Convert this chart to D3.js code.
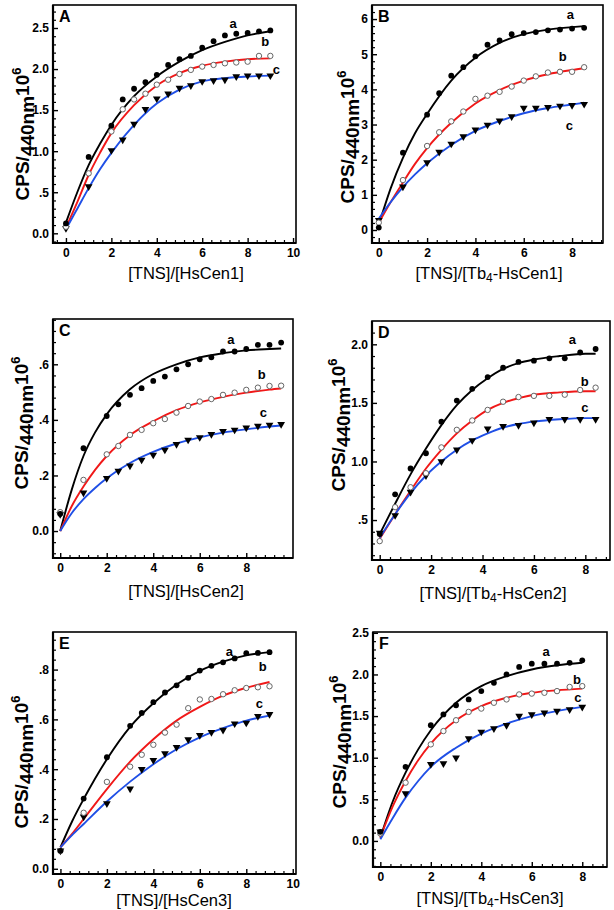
<!DOCTYPE html>
<html><head><meta charset="utf-8">
<script src="https://cdn.jsdelivr.net/npm/d3@7"></script>
<style>body{margin:0;background:#fff}svg{display:block}</style>
</head><body><svg id="c" width="614" height="910"></svg>
<script>
// ---------- Data ----------
const letters = ["A","B","C","D","E","F"];
const xTitles = ["HsCen1","Tb4-HsCen1","HsCen2","Tb4-HsCen2","HsCen3","Tb4-HsCen3"];
const seriesNames = ["a","b","c"];

// Panel A
const xA = [0,1,2,2.5,3,3.5,4,4.5,5,5.5,6,6.5,7,7.5,8,8.5,9];
const aA = [0.12,0.93,1.31,1.63,1.76,1.84,1.93,2.05,2.12,2.16,2.26,2.34,2.41,2.43,2.44,2.46,2.47];
const bA = [0.08,0.73,1.24,1.51,1.63,1.70,1.81,1.87,1.94,1.99,2.03,2.05,2.07,2.08,2.09,2.16,2.16];
const cA = [0.06,0.57,1.01,1.14,1.33,1.51,1.64,1.70,1.77,1.80,1.85,1.86,1.87,1.91,1.92,1.92,1.92];
const fxA = [0,0.5,1,1.5,2,3,4,5,6,7,8,9];
const faA = [0.13,0.50,0.83,1.09,1.32,1.67,1.91,2.09,2.23,2.33,2.41,2.46];
const fbA = [0.07,0.38,0.71,0.98,1.22,1.56,1.80,1.95,2.04,2.09,2.12,2.13];
const fcA = [0.05,0.30,0.55,0.78,0.98,1.32,1.58,1.75,1.85,1.89,1.91,1.92];
const labA = [[7.36,2.56],[8.78,2.34],[9.27,1.99]];

// Panel B
const xB = [0,1,2,2.5,3,3.5,4,4.5,5,5.5,6,6.5,7,7.5,8,8.5];
const aB = [0.07,2.20,3.28,3.89,4.39,4.63,4.94,5.27,5.39,5.57,5.60,5.63,5.68,5.70,5.73,5.75];
const bB = [0.21,1.42,2.39,2.78,3.09,3.37,3.73,3.82,3.93,4.08,4.25,4.37,4.48,4.50,4.50,4.63];
const cB = [0.28,1.23,1.92,2.22,2.45,2.66,2.85,2.99,3.11,3.23,3.47,3.47,3.49,3.53,3.55,3.58];
const fxB = [0,0.5,1,1.5,2,3,4,5,6,7,8,8.5];
const faB = [0.15,1.2,2.05,2.75,3.3,4.25,4.9,5.32,5.57,5.70,5.77,5.80];
const fbB = [0.2,0.8,1.35,1.88,2.33,3.05,3.6,3.98,4.25,4.43,4.55,4.6];
const fcB = [0.32,0.8,1.22,1.58,1.9,2.42,2.82,3.1,3.32,3.47,3.57,3.62];
const labB = [[7.93,6.13],[7.61,4.94],[7.89,2.96]];

// Panel C
const xC = [0,1,2,2.5,3,3.5,4,4.5,5,5.5,6,6.5,7,7.5,8,8.5,9,9.5];
const aC = [0.062,0.298,0.414,0.456,0.49,0.514,0.54,0.556,0.582,0.60,0.618,0.625,0.646,0.646,0.655,0.67,0.67,0.678];
const bC = [0.068,0.184,0.276,0.306,0.346,0.364,0.388,0.403,0.426,0.45,0.466,0.475,0.49,0.498,0.508,0.516,0.522,0.523];
const cC = [0.06,0.138,0.19,0.216,0.235,0.256,0.274,0.292,0.312,0.328,0.337,0.348,0.359,0.364,0.372,0.378,0.382,0.384];
const fxC = [0,0.5,1,1.5,2,3,4,5,6,7,8,9,9.5];
const faC = [0,0.15,0.27,0.355,0.42,0.51,0.565,0.60,0.625,0.64,0.65,0.655,0.657];
const fbC = [0,0.09,0.16,0.22,0.27,0.345,0.395,0.435,0.463,0.483,0.498,0.509,0.513];
const fcC = [0,0.065,0.115,0.155,0.19,0.245,0.285,0.315,0.337,0.354,0.366,0.376,0.38];
const labC = [[7.34,0.691],[8.67,0.565],[8.74,0.427]];

// Panel D
const xD = [0,0.6,1.2,1.8,2.4,3,3.6,4.2,4.8,5.4,6,6.6,7.2,7.8,8.4];
const aD = [0.38,0.72,0.94,1.07,1.34,1.52,1.62,1.72,1.80,1.85,1.86,1.88,1.88,1.93,1.96];
const bD = [0.32,0.61,0.78,0.90,1.12,1.27,1.35,1.44,1.51,1.55,1.56,1.56,1.57,1.61,1.63];
const cD = [0.39,0.54,0.74,0.88,1.00,1.10,1.18,1.28,1.30,1.31,1.33,1.36,1.36,1.36,1.36];
const fxD = [0,0.6,1.2,1.8,2.4,3,3.6,4.2,4.8,5.4,6,7,8,8.4];
const faD = [0.38,0.64,0.89,1.11,1.31,1.48,1.61,1.71,1.79,1.84,1.87,1.90,1.92,1.92];
const fbD = [0.34,0.55,0.75,0.94,1.10,1.24,1.35,1.44,1.50,1.54,1.57,1.59,1.60,1.60];
const fcD = [0.35,0.55,0.73,0.88,1.00,1.10,1.18,1.24,1.29,1.32,1.34,1.36,1.37,1.37];
const labD = [[7.5,2.04],[7.98,1.68],[7.98,1.46]];

// Panel E
const xE = [0,1,2,3,3.5,4,4.5,5,5.5,6,6.5,7,7.5,8,8.5,9];
const aE = [0.072,0.282,0.448,0.574,0.626,0.669,0.708,0.737,0.767,0.796,0.815,0.829,0.845,0.866,0.867,0.870];
const bE = [0.072,0.225,0.349,0.41,0.458,0.498,0.547,0.579,0.645,0.680,0.682,0.701,0.717,0.726,0.729,0.733];
const cE = [0.072,0.209,0.262,0.321,0.40,0.436,0.463,0.488,0.519,0.536,0.548,0.557,0.583,0.586,0.613,0.621];
const fxE = [0,0.5,1,2,3,4,5,6,7,8,9];
const faE = [0.086,0.19,0.28,0.44,0.57,0.665,0.74,0.795,0.832,0.857,0.87];
const fbE = [0.086,0.14,0.20,0.32,0.43,0.52,0.595,0.65,0.695,0.727,0.75];
const fcE = [0.086,0.135,0.18,0.27,0.35,0.42,0.48,0.528,0.565,0.595,0.615];
const labE = [[7.27,0.871],[8.71,0.811],[8.56,0.664]];

// Panel F
const xF = [0,1,2,2.5,3,3.5,4,4.5,5,5.5,6,6.5,7,7.5,8];
const aF = [0.11,0.89,1.39,1.52,1.63,1.70,1.80,1.90,2.0,2.09,2.13,2.13,2.13,2.14,2.17];
const bF = [0.09,0.70,1.16,1.32,1.45,1.55,1.59,1.66,1.70,1.76,1.77,1.78,1.80,1.85,1.86];
const cF = [0.11,0.57,0.92,0.93,1.0,1.23,1.31,1.35,1.39,1.50,1.52,1.54,1.56,1.58,1.61];
const fxF = [0,0.5,1,1.5,2,3,4,5,6,7,8];
const faF = [0.04,0.48,0.82,1.10,1.33,1.66,1.86,1.98,2.06,2.11,2.14];
const fbF = [0.04,0.42,0.72,0.97,1.17,1.45,1.62,1.72,1.78,1.81,1.83];
const fcF = [0.02,0.28,0.52,0.72,0.89,1.12,1.29,1.41,1.50,1.56,1.61];
const labF = [[6.57,2.28],[7.79,1.94],[7.83,1.72]];

// Ticks
const xTicks10 = [0,2,4,6,8,10];
const xTicks8 = [0,2,4,6,8];
const yTicksA = [0,0.5,1,1.5,2,2.5];
const yTicksB = [0,1,2,3,4,5,6];
const yTicksC = [0,0.2,0.4,0.6];
const yTicksD = [0.5,1,1.5,2];
const yTicksE = [0,0.2,0.4,0.6,0.8];
const yTicksF = [0,0.5,1,1.5,2,2.5];

// ---------- Layout ----------
const FONT = "'Liberation Sans', Arial, Helvetica, sans-serif";
const lineColors = ["#000000","#f01818","#1f4fe6"];
const layout = [
  {l:53, t:5,   r:296, b:243, xd:[-0.57,10.13], yd:[-0.118,2.78], ytx:29,  yty:134, xtx:186, xty:279, xt:xTicks10, yt:yTicksA, ym:0.1,  dec:true},
  {l:372,t:5,   r:603, b:243, xd:[-0.28,9.28],  yd:[-0.37,6.40],  ytx:354, yty:137, xtx:489, xty:279, xt:xTicks8,  yt:yTicksB, ym:0.2,  dec:false},
  {l:53, t:319, r:293, b:558, xd:[-0.31,10.01], yd:[-0.097,0.763],ytx:28,  yty:423, xtx:186, xty:597, xt:xTicks10, yt:yTicksC, ym:0.04, dec:true},
  {l:372,t:321, r:610, b:560, xd:[-0.30,8.96],  yd:[0.159,2.199], ytx:345, yty:425, xtx:493, xty:599, xt:xTicks8,  yt:yTicksD, ym:0.1,  dec:true},
  {l:53, t:632, r:296, b:874, xd:[-0.32,10.14], yd:[-0.021,0.951],ytx:28,  yty:762, xtx:174, xty:906, xt:xTicks10, yt:yTicksE, ym:0.04, dec:true},
  {l:373,t:632, r:607, b:867, xd:[-0.29,8.98],  yd:[-0.313,2.51], ytx:346, yty:742, xtx:490, xty:904, xt:xTicks8,  yt:yTicksF, ym:0.1,  dec:true}
];
const pts = [[xA,aA,bA,cA],[xB,aB,bB,cB],[xC,aC,bC,cC],[xD,aD,bD,cD],[xE,aE,bE,cE],[xF,aF,bF,cF]];
const fits = [[fxA,faA,fbA,fcA],[fxB,faB,fbB,fcB],[fxC,faC,fbC,fcC],[fxD,faD,fbD,fcD],[fxE,faE,fbE,fcE],[fxF,faF,fbF,fcF]];
const labs = [labA,labB,labC,labD,labE,labF];

const fmtDec = v => v === 0 ? "0.0" : (Math.abs(v) < 1 ? d3.format(".1f")(v).replace(/^0/, "") : d3.format(".1f")(v));
const svg = d3.select("#c");

function drawPanel(i) {
  const p = layout[i];
  const g = svg.append("g").attr("font-family", FONT);
  const x = d3.scaleLinear().domain(p.xd).range([p.l, p.r]);
  const y = d3.scaleLinear().domain(p.yd).range([p.b, p.t]);

  // minor ticks
  const xm = d3.range(Math.ceil(p.xd[0] / 0.4) * 0.4, p.xd[1], 0.4).filter(v => Math.abs(v / 2 - Math.round(v / 2)) > 1e-6);
  const ymv = d3.range(Math.ceil(p.yd[0] / p.ym - 1e-9) * p.ym, p.yd[1], p.ym).filter(v => !p.yt.some(t => Math.abs(t - v) < 1e-6));
  const xMajor = p.xt.filter(v => x(v) <= p.r - 1);

  g.append("g").attr("transform", `translate(0,${p.b})`)
    .call(d3.axisBottom(x).tickValues(xm).tickSize(-3).tickFormat(""))
    .call(s => s.select(".domain").remove())
    .call(s => s.selectAll("line").attr("stroke-width", 1.2));
  g.append("g").attr("transform", `translate(${p.l},0)`)
    .call(d3.axisLeft(y).tickValues(ymv).tickSize(-3).tickFormat(""))
    .call(s => s.select(".domain").remove())
    .call(s => s.selectAll("line").attr("stroke-width", 1.2));

  g.append("g").attr("transform", `translate(0,${p.b})`)
    .call(d3.axisBottom(x).tickValues(xMajor).tickSize(-5).tickPadding(5).tickFormat(d3.format("d")))
    .call(s => s.select(".domain").remove())
    .call(s => s.selectAll("line").attr("stroke-width", 1.4))
    .call(s => s.selectAll("text").attr("font-size", 12).attr("font-weight", "bold").attr("font-family", FONT).attr("fill", "#000"));
  g.append("g").attr("transform", `translate(${p.l},0)`)
    .call(d3.axisLeft(y).tickValues(p.yt).tickSize(-5).tickPadding(4).tickFormat(p.dec ? fmtDec : d3.format("d")))
    .call(s => s.select(".domain").remove())
    .call(s => s.selectAll("line").attr("stroke-width", 1.4))
    .call(s => s.selectAll("text").attr("font-size", 12).attr("font-weight", "bold").attr("font-family", FONT).attr("fill", "#000"));

  // frame
  g.append("rect").attr("x", p.l).attr("y", p.t).attr("width", p.r - p.l).attr("height", p.b - p.t)
    .attr("fill", "none").attr("stroke", "#000").attr("stroke-width", 1.6);
  g.append("path").attr("d", `M${p.l},${p.t}V${p.b}H${p.r}`).attr("fill", "none").attr("stroke", "#000").attr("stroke-width", 2.2);

  // fit curves
  const f = fits[i];
  const line = d3.line().x(d => x(d[0])).y(d => y(d[1])).curve(d3.curveMonotoneX);
  [1, 2, 3].forEach(k => {
    g.append("path").datum(d3.zip(f[0], f[k])).attr("d", line)
      .attr("fill", "none").attr("stroke", lineColors[k - 1]).attr("stroke-width", 1.9);
  });

  // points
  const d = pts[i];
  const pa = d3.zip(d[0], d[1]), pb = d3.zip(d[0], d[2]), pc = d3.zip(d[0], d[3]);
  g.append("g").selectAll("path").data(pc).join("path")
    .attr("d", d3.symbol(d3.symbolTriangle, 26)())
    .attr("transform", v => `translate(${x(v[0])},${y(v[1])}) rotate(180)`)
    .attr("fill", "#000");
  g.append("g").selectAll("circle").data(pb).join("circle")
    .attr("cx", v => x(v[0])).attr("cy", v => y(v[1])).attr("r", 2.7)
    .attr("fill", "#fff").attr("stroke", "#666").attr("stroke-width", 1);
  g.append("g").selectAll("circle").data(pa).join("circle")
    .attr("cx", v => x(v[0])).attr("cy", v => y(v[1])).attr("r", 2.9)
    .attr("fill", "#000");

  // series labels
  labs[i].forEach((lp, k) => {
    g.append("text").attr("x", x(lp[0])).attr("y", y(lp[1])).attr("dy", "0.35em")
      .attr("text-anchor", "middle").attr("font-size", 13).attr("font-weight", "bold").text(seriesNames[k]);
  });

  // panel letter
  g.append("text").attr("x", p.l + 6).attr("y", p.t + 17).attr("font-size", 16).attr("font-weight", "bold").text(letters[i]);

  // y title
  const yt = g.append("text").attr("transform", `translate(${p.ytx},${p.yty}) rotate(-90)`)
    .attr("text-anchor", "middle").attr("font-size", 19).attr("font-weight", "bold");
  yt.append("tspan").text("CPS/");
  yt.append("tspan").attr("dy", 5).text("440nm");
  yt.append("tspan").attr("dy", -5).text("10");
  yt.append("tspan").attr("dy", -8).attr("font-size", 13).text("6");

  // x title
  const name = xTitles[i];
  const xt = g.append("text").attr("x", p.xtx).attr("y", p.xty).attr("text-anchor", "middle").attr("font-size", 16.5);
  if (name.startsWith("Tb4")) {
    xt.append("tspan").text("[TNS]/[Tb");
    xt.append("tspan").attr("dy", 3).attr("font-size", 12).text("4");
    xt.append("tspan").attr("dy", -3).text(name.slice(3) + "]");
  } else {
    xt.append("tspan").text("[TNS]/[" + name + "]");
  }
}
letters.forEach((_, i) => drawPanel(i));
</script></body></html>
